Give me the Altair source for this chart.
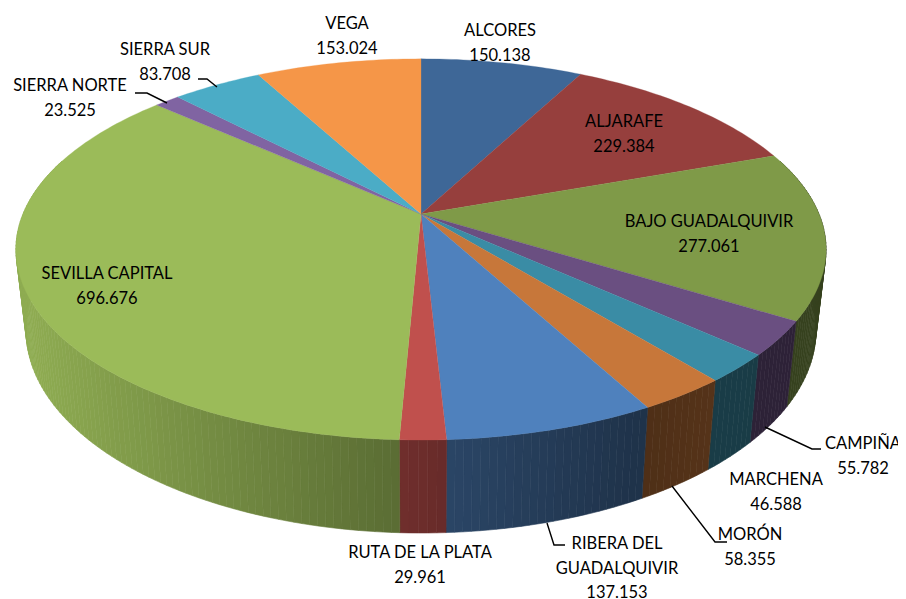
import math
import altair as alt

NAMES = ["ALCORES", "ALJARAFE", "BAJO GUADALQUIVIR", "CAMPIÑA", "MARCHENA", "MORÓN",
         "RIBERA DEL|GUADALQUIVIR", "RUTA DE LA PLATA", "SEVILLA CAPITAL", "SIERRA NORTE",
         "SIERRA SUR", "VEGA"]
VALUES = [150.138, 229.384, 277.061, 55.782, 46.588, 58.355, 137.153, 29.961, 696.676,
          23.525, 83.708, 153.024]
TOP_COLORS = ["#3E6797", "#963F3D", "#7F9A48", "#6A4F81", "#3A8CA5", "#C7773A",
              "#4F81BD", "#C0504D", "#9BBB59", "#8064A2", "#4BACC6", "#F59648"]
LABEL_POS = [(500, 31), (624, 122), (709, 222), (863, 444), (776, 480), (750, 535),
             (617, 544), (420, 553), (107, 274), (70, 86), (165, 50), (347, 24)]
LEADERS = {
    "CAMPIÑA": [(765, 427), (812, 449), (821, 449)],
    "MORÓN": [(672, 486), (715, 542), (727, 542)],
    "RIBERA": [(547, 523), (554, 545), (565, 545)],
    "SUR": [(198, 79), (207, 79), (217, 87)],
    "NORTE": [(135, 93), (147, 93), (167, 103)],
}
# page margin
OFF = 8
# perspective model of the pie disc
CX, CY, A, B, K = 421.0, 214.0, 398.0, 184.0, 0.186
SIDE_SX, SIDE_SY, SIDE_DY = 0.975, 1.063, 78.7
# brightness of the wall against horizontal position
SHADE_X = [0, 26, 200, 400, 446, 640, 720, 830]
SHADE_F = [0.92, 0.92, 0.76, 0.58, 0.54, 0.39, 0.43, 0.42]


def shade(x):
    for i in range(len(SHADE_X) - 1):
        if x <= SHADE_X[i + 1]:
            t = (x - SHADE_X[i]) / (SHADE_X[i + 1] - SHADE_X[i])
            return SHADE_F[i] + t * (SHADE_F[i + 1] - SHADE_F[i])
    return SHADE_F[-1]


def darker(col, f):
    r, g, b = (int(col[i:i + 2], 16) for i in (1, 3, 5))
    return "#%02x%02x%02x" % (round(r * f), round(g * f), round(b * f))


def rel(theta):
    u, v = math.sin(theta), -math.cos(theta)
    w = 1 - K * v
    return A * u / w, B * v / w


def top(theta):
    x, y = rel(theta)
    return [CX + x - OFF, CY + y - OFF]


def bottom(theta):
    x, y = rel(theta)
    return [CX + SIDE_SX * x - OFF, CY + SIDE_DY + SIDE_SY * y - OFF]


def feature(ring, color):
    return {"type": "Feature", "properties": {"c": color},
            "geometry": {"type": "Polygon", "coordinates": [ring + [ring[0]]]}}


total = sum(VALUES)
tops, walls = [], []
cum = 0.0
for value, color in zip(VALUES, TOP_COLORS):
    a0 = cum / total * 2 * math.pi
    cum += value
    a1 = cum / total * 2 * math.pi
    n = max(4, int((a1 - a0) / math.radians(1.0)))
    angles = [a0 + (a1 - a0) * i / n for i in range(n + 1)]
    tops.append(feature([[CX - OFF, CY - OFF]] + [top(t) for t in angles], color))
    for t0, t1 in zip(angles, angles[1:]):
        mid = (t0 + t1) / 2
        if -math.cos(mid) > -0.3:
            xm = top(mid)[0] + OFF
            walls.append(feature([top(t0), top(t1), bottom(t1), bottom(t0)],
                                 darker(color, shade(xm))))

proj = dict(type="identity", scale=1, translate=[0, 0])


def geo(features, sw):
    return (alt.Chart(alt.Data(values=features))
            .mark_geoshape(strokeWidth=sw)
            .encode(color=alt.Color("properties.c:N", scale=None),
                    stroke=alt.Stroke("properties.c:N", scale=None))
            .project(**proj))


line_rows = []
for key, pts in LEADERS.items():
    for i, (x, y) in enumerate(pts):
        line_rows.append({"k": key, "i": i, "x": x - OFF, "y": y - OFF})
leaders = (alt.Chart(alt.Data(values=line_rows))
           .mark_line(color="black", strokeWidth=1.4)
           .encode(x=alt.X("x:Q", scale=None), y=alt.Y("y:Q", scale=None),
                   detail="k:N", order="i:Q"))

text_rows = []
STEP = 24.5
for name, value, (x, y) in zip(NAMES, VALUES, LABEL_POS):
    lines = name.split("|") + ["%.3f" % value]
    for i, s in enumerate(lines):
        text_rows.append({"t": s, "x": x - OFF, "y": y - OFF + i * STEP})
texts = (alt.Chart(alt.Data(values=text_rows))
         .mark_text(font="Lato", fontSize=16.5, color="black", align="center", baseline="middle")
         .encode(x=alt.X("x:Q", scale=None), y=alt.Y("y:Q", scale=None), text="t:N"))

chart = (alt.layer(geo(walls, 0.6), geo(tops, 0.3), leaders, texts)
         .properties(width=890, height=591, padding=0,
                     autosize=alt.AutoSizeParams(type="none"))
         .configure_view(stroke=None)
         .configure_axis(disable=True))
chart.save("out.html", embed_options={"renderer": "svg", "actions": False})
